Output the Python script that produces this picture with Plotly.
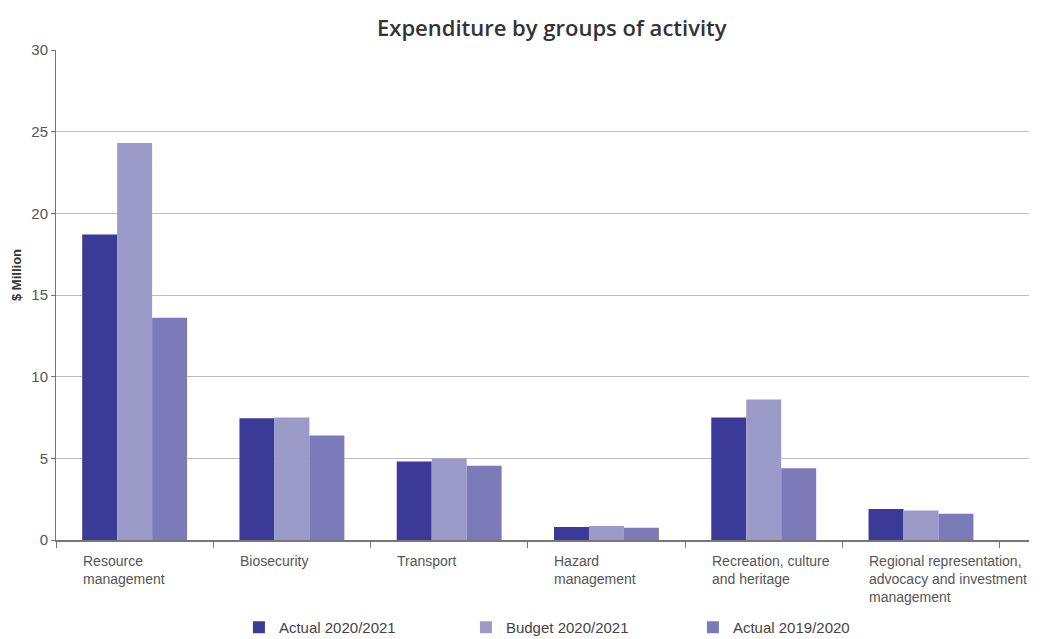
import plotly.graph_objects as go

categories = [
    "Resource<br>management",
    "Biosecurity",
    "Transport",
    "Hazard<br>management",
    "Recreation, culture<br>and heritage",
    "Regional representation,<br>advocacy and investment<br>management",
]
actual_2021 = [18.7, 7.45, 4.8, 0.8, 7.5, 1.9]
budget_2021 = [24.3, 7.5, 5.0, 0.85, 8.6, 1.8]
actual_2020 = [13.6, 6.4, 4.55, 0.75, 4.4, 1.6]
series_names = ["Actual 2020/2021", "Budget 2020/2021", "Actual 2019/2020"]
y_ticks = [0, 5, 10, 15, 20, 25, 30]

colors = ["#3b3a96", "#9c9ac8", "#7c7ab8"]
sans = "Liberation Sans, Arial, sans-serif"

fig = go.Figure()
for name, vals, col in zip(series_names, [actual_2021, budget_2021, actual_2020], colors):
    fig.add_trace(go.Bar(x=categories, y=vals, name=name, marker=dict(color=col, line=dict(width=0))))

# left-aligned category labels under each group
for cat in categories:
    fig.add_annotation(
        x=cat, y=0, xref="x", yref="y", text=cat, showarrow=False,
        xanchor="left", yanchor="top", align="left", xshift=-54, yshift=-11,
        font=dict(family=sans, size=14, color="#555555"),
    )

# vertical axis caption
fig.add_annotation(
    x=-0.040, y=0.541, xref="paper", yref="paper", text="<b>$ Million</b>", showarrow=False,
    textangle=-90, xanchor="center", yanchor="middle",
    font=dict(family=sans, size=13, color="#333333"),
)

fig.update_layout(
    width=1045, height=639,
    margin=dict(l=56, r=16, t=50, b=99, autoexpand=False),
    paper_bgcolor="white", plot_bgcolor="white",
    title=dict(text="Expenditure by groups of activity", x=0.528, xanchor="center",
               y=0.955, yanchor="middle",
               font=dict(family="Open Sans, Noto Sans, sans-serif", size=22, weight=600, color="#333333")),
    barmode="group", bargap=0.333, bargroupgap=0,
    legend=dict(orientation="h", x=0.188, xanchor="left", yref="container", y=0.018, yanchor="middle",
                font=dict(family=sans, size=15, color="#444444"),
                entrywidth=182, entrywidthmode="pixels", itemsizing="constant"),
    xaxis=dict(showticklabels=False, tickson="boundaries", ticks="outside", ticklen=6,
               tickcolor="#777777", showline=True, linecolor="#777777", linewidth=1.5,
               showgrid=False),
    yaxis=dict(range=[0, 30], tickvals=y_ticks, showline=True, linecolor="#777777", linewidth=1,
               ticks="outside", ticklen=4, tickcolor="#777777",
               gridcolor="#bdbdbd", gridwidth=1, zeroline=False,
               tickfont=dict(family=sans, size=15, color="#555555")),
)

fig.write_html("out.html")
